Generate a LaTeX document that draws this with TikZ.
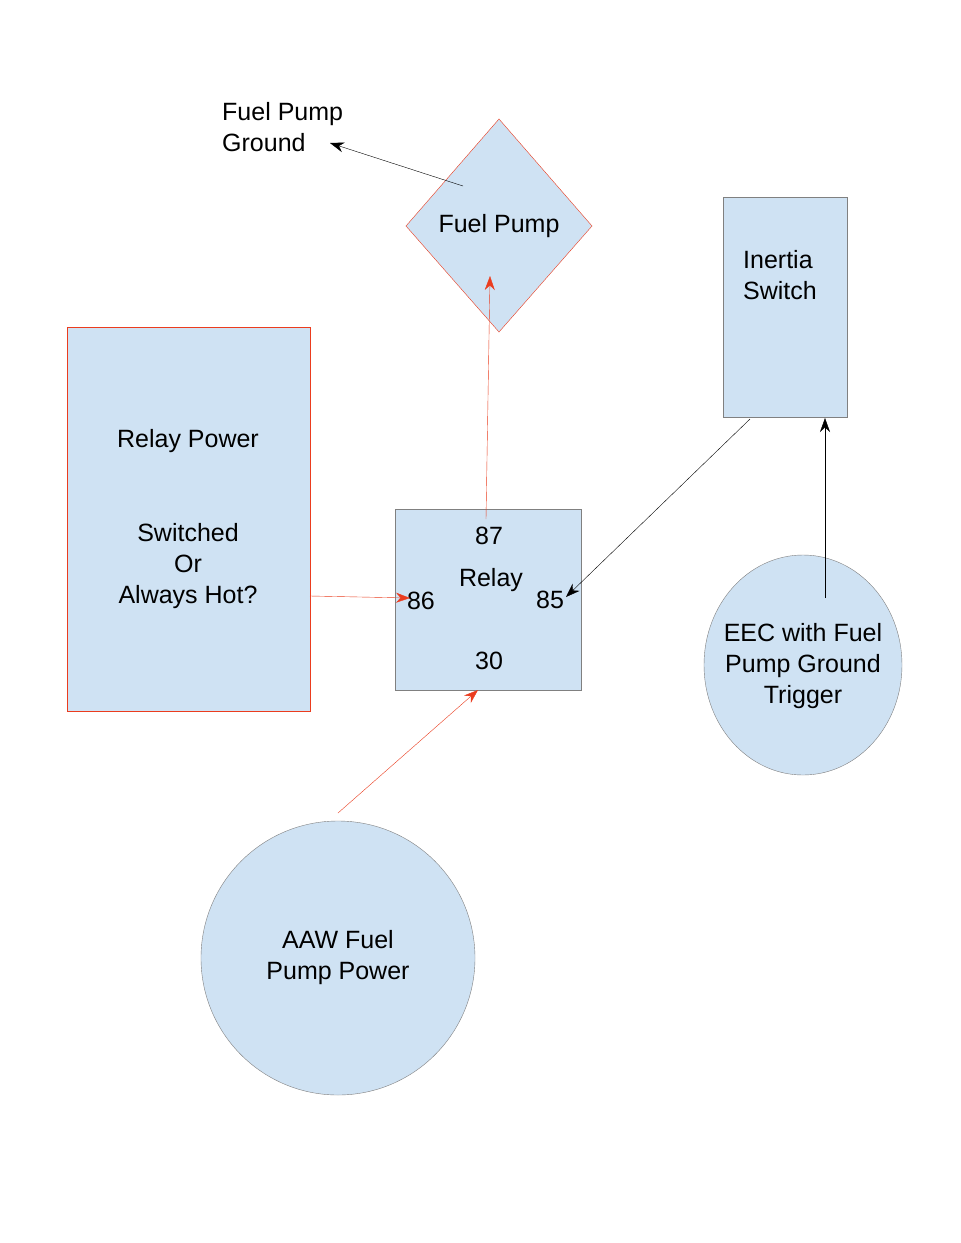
\documentclass[tikz,border=0pt]{standalone}
\usepackage{fontspec}
\setmainfont{Liberation Sans}
\usetikzlibrary{shapes.geometric,arrows.meta}
\definecolor{boxfill}{RGB}{207,226,243}
\definecolor{wirered}{RGB}{235,60,30}
\tikzset{
  blk/.style={fill=boxfill,draw=gray},
  redblk/.style={fill=boxfill,draw=wirered},
  lbl/.style={inner sep=0pt,align=center,font=\fontsize{25}{31}\selectfont},
  redwire/.style={draw=wirered,-{Stealth[length=14,width=10,fill=wirered]}},
  blkwire/.style={draw=black,-{Stealth[length=14,width=10]}}
}
\begin{document}
\begin{tikzpicture}[x=1pt,y=1pt,yscale=-1,xscale=1]
        \useasboundingbox[fill=white] (0,0) rectangle (961,1243);
        % shapes
        \draw[redblk] (67,327) rectangle (310,711);
        \draw[blk] (723,197) rectangle (847,417);
        \draw[blk] (395,509) rectangle (581,690);
        \draw[redblk] (499,119) -- (592,226) -- (499,332) -- (406,226) -- cycle;
        \draw[blk] (803,665) ellipse [x radius=99,y radius=110];
        \draw[blk] (338,958) circle [radius=137];

        % texts
        \node[lbl,align=left,anchor=north west] (ground) at (222,102) {Fuel Pump\\Ground};
        \node[lbl] (pump) at (499,226) {Fuel Pump};
        \node[lbl,align=left] (inertia) at (780,275) {Inertia\\Switch};
        \node[lbl] (power) at (188,441) {Relay Power};
        \node[lbl] (hot) at (188,566) {Switched\\Or\\Always Hot?};
        \node[lbl] (relay) at (491,580) {Relay};
        \node[lbl] (p87) at (489,536) {87};
        \node[lbl] (p85) at (550,600) {85};
        \node[lbl] (p86) at (421,601) {86};
        \node[lbl] (p30) at (489,661) {30};
        \node[lbl] (eec) at (803,666) {EEC with Fuel\\Pump Ground\\Trigger};
        \node[lbl] (aaw) at (338,958) {AAW Fuel\\Pump Power};

        % wire ends
        \coordinate (pumpout) at (463,186);
        \coordinate (groundin) at (330,143);
        \coordinate (out87) at (486,519);
        \coordinate (pumpin) at (490,276);
        \coordinate (powerout) at (310,596);
        \coordinate (in86) at (410,598);
        \coordinate (inertiaout) at (750,419);
        \coordinate (in85) at (566,597);
        \coordinate (eecout) at (825,598);
        \coordinate (inertiain) at (825,418);
        \coordinate (aawout) at (338,813);
        \coordinate (in30) at (478,690);

        % wires
        \draw[blkwire] (pumpout) -- (groundin);
        \draw[redwire] (out87) -- (pumpin);
        \draw[redwire] (powerout) -- (in86);
        \draw[blkwire] (inertiaout) -- (in85);
        \draw[blkwire] (eecout) -- (inertiain);
        \draw[redwire] (aawout) -- (in30);
\end{tikzpicture}
\end{document}
